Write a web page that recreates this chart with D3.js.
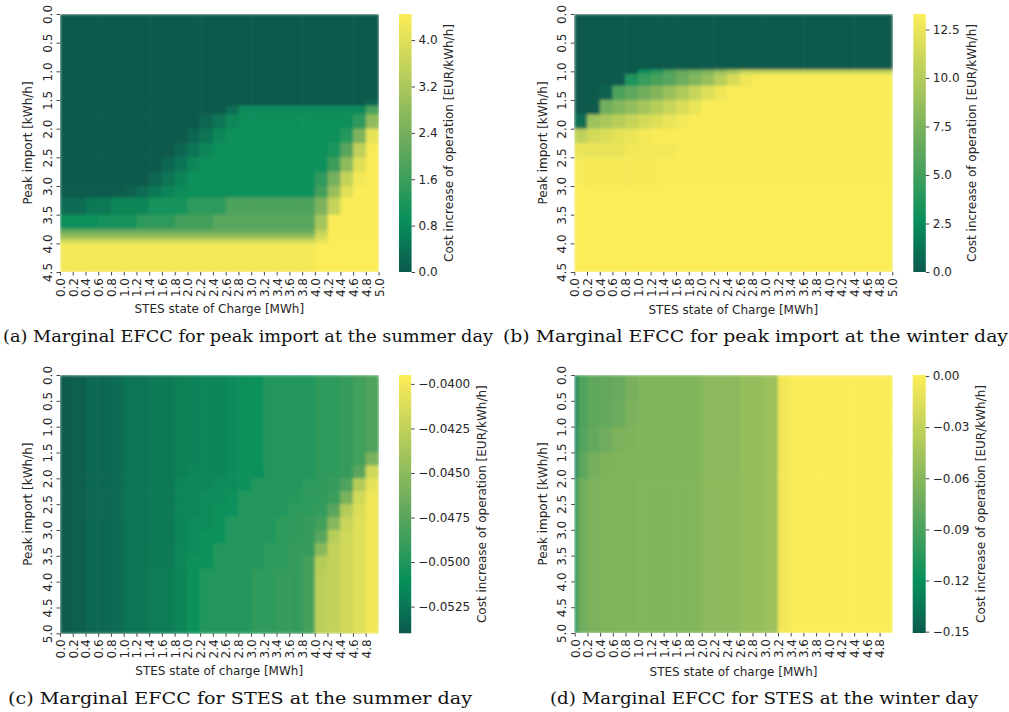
<!DOCTYPE html>
<html><head><meta charset="utf-8">
<script src="https://cdn.jsdelivr.net/npm/d3@7"></script>
<style>body{margin:0;background:#fff}svg{display:block}</style>
</head><body>
<script>
// ---------------- data ----------------
const xEdgesABC = [0,0.2,0.4,0.6,0.8,1.0,1.2,1.4,1.6,1.8,2.0,2.2,2.4,2.6,2.8,3.0,3.2,3.4,3.6,3.8,4.0,4.2,4.4,4.6,4.8,5.0];
const xEdgesD = [0,0.05,0.2,0.4,0.6,0.8,1.0,1.2,1.4,1.6,1.8,2.0,2.2,2.4,2.6,2.8,3.0,3.2,3.4,3.6,3.8,4.0,4.2,4.4,4.6,4.8,5.0];
const xTicksAB = [0,0.2,0.4,0.6,0.8,1.0,1.2,1.4,1.6,1.8,2.0,2.2,2.4,2.6,2.8,3.0,3.2,3.4,3.6,3.8,4.0,4.2,4.4,4.6,4.8,5.0];
const xTicksCD = [0,0.2,0.4,0.6,0.8,1.0,1.2,1.4,1.6,1.8,2.0,2.2,2.4,2.6,2.8,3.0,3.2,3.4,3.6,3.8,4.0,4.2,4.4,4.6,4.8];
const yTicksAB = [0,0.5,1.0,1.5,2.0,2.5,3.0,3.5,4.0,4.5];
const yTicksCD = [0,0.5,1.0,1.5,2.0,2.5,3.0,3.5,4.0,4.5,5.0];

// (a) peak import, summer
const aYEdges = [0,1.5,1.6,1.75,2.0,2.25,2.5,2.75,3.0,3.2,3.5,3.75,3.83,3.92,4.0,4.5];
const aValues = [
 [0,0,0,0,0,0,0,0,0,0,0,0,0,0,0,0,0,0,0,0,0,0,0,0,0],
 [0,0,0,0,0,0,0,0,0,0,0,0,0,0,0,0,0,0,0,0,0,0,0,0,0.2],
 [0,0,0,0,0,0,0,0,0,0,0,0,0,0.3,0.8,0.8,0.8,0.8,0.8,0.8,0.8,0.8,0.8,0.8,1.8],
 [0,0,0,0,0,0,0,0,0,0,0,0.2,0.45,0.75,0.9,0.9,0.9,0.9,0.9,0.9,0.9,0.9,0.9,1.4,2.8],
 [0,0,0,0,0,0,0,0,0,0,0.2,0.45,0.75,0.92,0.92,0.92,0.92,0.92,0.92,0.92,0.92,0.92,1.3,2.5,4.1],
 [0,0,0,0,0,0,0,0,0,0.2,0.45,0.75,0.95,0.95,0.95,0.95,0.95,0.95,0.95,0.95,0.95,1.2,2.0,3.5,4.35],
 [0,0,0,0,0,0,0,0,0.2,0.45,0.75,0.95,0.95,0.95,0.95,0.95,0.95,0.95,0.95,0.95,0.95,1.6,2.8,4.0,4.4],
 [0,0,0,0,0,0,0,0.2,0.45,0.7,0.95,0.95,0.95,0.95,0.95,0.95,0.95,0.95,0.95,0.95,1.4,2.4,3.6,4.3,4.4],
 [0.03,0.03,0.03,0.03,0.03,0.1,0.3,0.5,0.7,0.85,1.0,1.0,1.0,1.0,1.0,1.0,1.0,1.0,1.0,1.0,1.7,2.9,4.0,4.4,4.4],
 [0.3,0.3,0.5,0.5,0.75,0.75,0.75,1.1,1.1,1.1,1.4,1.4,1.4,1.85,1.85,1.85,1.85,1.85,1.85,1.85,2.5,3.6,4.4,4.4,4.4],
 [0.9,0.9,0.9,1.1,1.1,1.1,1.4,1.4,1.4,1.7,1.7,1.7,2.0,2.0,2.0,2.0,2.0,2.0,2.0,2.0,3.1,4.4,4.4,4.4,4.4],
 [2.2,2.2,2.2,2.2,2.2,2.2,2.2,2.2,2.2,2.2,2.2,2.2,2.2,2.2,2.2,2.2,2.2,2.2,2.2,2.2,3.5,4.4,4.4,4.4,4.4],
 [2.8,2.8,2.8,2.8,2.8,2.8,2.8,2.8,2.8,2.8,2.8,2.8,2.8,2.8,2.8,2.8,2.8,2.8,2.8,2.8,3.8,4.4,4.4,4.4,4.4],
 [3.8,3.8,3.8,3.8,3.8,3.8,3.8,3.8,3.8,3.8,3.8,3.8,3.8,3.8,3.8,3.8,3.8,3.8,3.8,3.8,4.1,4.4,4.4,4.4,4.4],
 [4.3,4.3,4.3,4.3,4.3,4.3,4.3,4.3,4.3,4.3,4.3,4.3,4.3,4.3,4.3,4.3,4.3,4.3,4.3,4.3,4.42,4.42,4.42,4.42,4.42]
];
const aRange = [0, 4.45];
const aCbTicks = [0.0,0.8,1.6,2.4,3.2,4.0];

// (b) peak import, winter
const bYEdges = [0,0.97,1.05,1.25,1.5,1.75,2.0,2.25,2.5,3.0,4.5];
const bValues = [
 [0,0,0,0,0,0,0,0,0,0,0,0,0,0,0,0,0,0,0,0,0,0,0,0,0],
 [0,0,0,0,0,3.0,4.0,5.5,6.5,7.0,7.5,8.5,9.5,10.8,10.8,10.8,10.8,10.8,10.8,10.8,10.8,10.8,10.8,10.8,10.8],
 [0,0,0,0,3.5,4.6,5.2,5.9,6.8,7.8,8.7,10.2,11.6,12.6,13.1,13.1,13.1,13.1,13.1,13.1,13.1,13.1,13.1,13.1,13.1],
 [0,0,0.5,5.5,6.2,7.0,7.8,8.8,9.8,10.9,11.9,12.6,13.1,13.1,13.1,13.1,13.1,13.1,13.1,13.1,13.1,13.1,13.1,13.1,13.1],
 [0,0,7.0,7.8,8.5,9.3,10.1,10.9,11.7,12.4,13.1,13.1,13.1,13.1,13.1,13.1,13.1,13.1,13.1,13.1,13.1,13.1,13.1,13.1,13.1],
 [1.0,9.0,9.6,10.2,10.8,11.4,11.9,12.4,12.8,13.1,13.1,13.1,13.1,13.1,13.1,13.1,13.1,13.1,13.1,13.1,13.1,13.1,13.1,13.1,13.1],
 [10.5,11.4,11.8,12.2,12.5,12.8,13.1,13.1,13.1,13.1,13.1,13.1,13.1,13.1,13.1,13.1,13.1,13.1,13.1,13.1,13.1,13.1,13.1,13.1,13.1],
 [12.4,12.4,12.4,12.4,12.8,12.8,12.8,12.8,13.1,13.1,13.1,13.1,13.1,13.1,13.1,13.1,13.1,13.1,13.1,13.1,13.1,13.1,13.1,13.1,13.1],
 [13.0,13.0,13.0,13.0,13.0,13.0,13.0,13.15,13.15,13.15,13.15,13.15,13.15,13.15,13.15,13.15,13.15,13.15,13.15,13.15,13.15,13.15,13.15,13.15,13.15],
 [13.2,13.2,13.2,13.2,13.2,13.2,13.2,13.2,13.2,13.2,13.2,13.2,13.2,13.2,13.2,13.2,13.2,13.2,13.2,13.2,13.2,13.2,13.2,13.2,13.2]
];
const bRange = [0, 13.3];
const bCbTicks = [0.0,2.5,5.0,7.5,10.0,12.5];

// (c) STES, summer
const cYEdges = [0,1.5,1.75,2.0,2.25,2.5,2.75,3.0,3.25,3.5,3.75,5.0];
const cValues = [
 [-0.0539,-0.0536,-0.0533,-0.0533,-0.0530,-0.0526,-0.0526,-0.0523,-0.0523,-0.0519,-0.0518,-0.0516,-0.0516,-0.0513,-0.0511,-0.0507,-0.0499,-0.0499,-0.0499,-0.0499,-0.0494,-0.0494,-0.0491,-0.0485,-0.0479],
 [-0.0539,-0.0536,-0.0533,-0.0533,-0.0530,-0.0526,-0.0526,-0.0523,-0.0523,-0.0519,-0.0518,-0.0516,-0.0516,-0.0513,-0.0511,-0.0507,-0.0499,-0.0499,-0.0499,-0.0499,-0.0494,-0.0494,-0.0491,-0.0485,-0.0460],
 [-0.0539,-0.0536,-0.0533,-0.0533,-0.0530,-0.0526,-0.0526,-0.0523,-0.0523,-0.0519,-0.0516,-0.0516,-0.0516,-0.0513,-0.0508,-0.0508,-0.0499,-0.0499,-0.0499,-0.0499,-0.0494,-0.0494,-0.0491,-0.0475,-0.0417],
 [-0.0539,-0.0536,-0.0533,-0.0533,-0.0530,-0.0526,-0.0526,-0.0523,-0.0523,-0.0516,-0.0516,-0.0516,-0.0513,-0.0513,-0.0508,-0.0499,-0.0499,-0.0499,-0.0499,-0.0494,-0.0494,-0.0491,-0.0479,-0.0431,-0.0407],
 [-0.0539,-0.0536,-0.0533,-0.0533,-0.0530,-0.0526,-0.0526,-0.0523,-0.0523,-0.0516,-0.0516,-0.0513,-0.0513,-0.0508,-0.0499,-0.0499,-0.0499,-0.0499,-0.0497,-0.0494,-0.0494,-0.0488,-0.0460,-0.0417,-0.0402],
 [-0.0539,-0.0536,-0.0533,-0.0533,-0.0530,-0.0526,-0.0526,-0.0523,-0.0523,-0.0516,-0.0516,-0.0513,-0.0508,-0.0508,-0.0499,-0.0499,-0.0499,-0.0499,-0.0494,-0.0494,-0.0491,-0.0475,-0.0431,-0.0412,-0.0401],
 [-0.0539,-0.0536,-0.0533,-0.0533,-0.0530,-0.0526,-0.0526,-0.0523,-0.0523,-0.0516,-0.0513,-0.0513,-0.0508,-0.0499,-0.0499,-0.0499,-0.0499,-0.0494,-0.0494,-0.0491,-0.0485,-0.0453,-0.0421,-0.0410,-0.0401],
 [-0.0539,-0.0536,-0.0533,-0.0533,-0.0530,-0.0526,-0.0526,-0.0523,-0.0523,-0.0516,-0.0513,-0.0508,-0.0508,-0.0499,-0.0499,-0.0499,-0.0499,-0.0494,-0.0494,-0.0491,-0.0475,-0.0430,-0.0418,-0.0410,-0.0401],
 [-0.0539,-0.0536,-0.0533,-0.0533,-0.0530,-0.0526,-0.0526,-0.0522,-0.0522,-0.0515,-0.0513,-0.0508,-0.0499,-0.0499,-0.0499,-0.0499,-0.0494,-0.0494,-0.0491,-0.0491,-0.0453,-0.0424,-0.0417,-0.0410,-0.0401],
 [-0.0539,-0.0536,-0.0533,-0.0533,-0.0530,-0.0526,-0.0526,-0.0522,-0.0522,-0.0515,-0.0508,-0.0508,-0.0499,-0.0499,-0.0499,-0.0499,-0.0494,-0.0494,-0.0491,-0.0485,-0.0431,-0.0424,-0.0417,-0.0410,-0.0401],
 [-0.0539,-0.0536,-0.0533,-0.0533,-0.0530,-0.0526,-0.0526,-0.0521,-0.0521,-0.0516,-0.0508,-0.0499,-0.0499,-0.0499,-0.0499,-0.0494,-0.0494,-0.0491,-0.0491,-0.0485,-0.0428,-0.0424,-0.0417,-0.0410,-0.0401]
];
const cRange = [-0.0540, -0.0395];
const cCbTicks = [-0.0525,-0.0500,-0.0475,-0.0450,-0.0425,-0.0400];

// (d) STES, winter
const dYEdges = [0,0.5,1.0,1.5,2.0,5.0];
const dValues = [
 [-0.130,-0.088,-0.080,-0.078,-0.076,-0.068,-0.063,-0.063,-0.063,-0.063,-0.063,-0.058,-0.058,-0.058,-0.053,-0.052,-0.049,-0.005,-0.001,-0.001,-0.001,-0.001,-0.001,-0.001,-0.001,-0.001],
 [-0.130,-0.088,-0.080,-0.078,-0.074,-0.066,-0.063,-0.063,-0.063,-0.063,-0.063,-0.058,-0.058,-0.058,-0.053,-0.052,-0.049,-0.005,-0.001,-0.001,-0.001,-0.001,-0.001,-0.001,-0.001,-0.001],
 [-0.130,-0.086,-0.078,-0.072,-0.066,-0.064,-0.063,-0.063,-0.063,-0.063,-0.063,-0.058,-0.058,-0.058,-0.053,-0.052,-0.049,-0.005,-0.001,-0.001,-0.001,-0.001,-0.001,-0.001,-0.001,-0.001],
 [-0.128,-0.082,-0.070,-0.065,-0.064,-0.063,-0.063,-0.063,-0.063,-0.063,-0.063,-0.058,-0.058,-0.058,-0.053,-0.052,-0.049,-0.005,-0.001,-0.001,-0.001,-0.001,-0.001,-0.001,-0.001,-0.001],
 [-0.115,-0.072,-0.066,-0.064,-0.063,-0.063,-0.062,-0.062,-0.062,-0.062,-0.062,-0.057,-0.057,-0.057,-0.053,-0.052,-0.049,-0.005,-0.001,-0.001,-0.001,-0.001,-0.001,-0.001,-0.001,-0.001]
];
const dRange = [-0.1508, 0.0006];
const dCbTicks = [-0.15,-0.12,-0.09,-0.06,-0.03,0];

// ---------------- drawing ----------------
const cmapStops = [[0,'#0b5a4e'],[0.2,'#078f5b'],[0.5,'#6aaa5d'],[1,'#fded58']];
function cmap(t){
  t = Math.max(0, Math.min(1, t));
  for (let k = 1; k < cmapStops.length; k++) {
    const [t1,c1] = cmapStops[k], [t0,c0] = cmapStops[k-1];
    if (t <= t1) return d3.interpolateRgb(c0,c1)((t-t0)/(t1-t0));
  }
  return cmapStops[cmapStops.length-1][1];
}

const W = 1009, H = 712;
const svg = d3.select('body').append('svg').attr('width',W).attr('height',H);
const defs = svg.append('defs');
const FONT = 'DejaVu Sans';
const FS = 12;
const TXT = '#262626';

const panels = [
 {key:'a', xEdges:xEdgesABC, yEdges:aYEdges, values:aValues, yMax:4.5, xTicks:xTicksAB, yTicks:yTicksAB,
  range:aRange, cbTicks:aCbTicks, cbFmt:d3.format('.1f'), xLabel:'STES state of Charge [MWh]',
  caption:'(a) Marginal EFCC for peak import at the summer day',
  x0:60, x1:378.6, y0:14, y1:272, cbX:399, cbW:12.6, ylabX:32, xlabY:312.5, cbLabX:452.5, capX:3, capW:490, capY:342},
 {key:'b', xEdges:xEdgesABC, yEdges:bYEdges, values:bValues, yMax:4.5, xTicks:xTicksAB, yTicks:yTicksAB,
  range:bRange, cbTicks:bCbTicks, cbFmt:d3.format('.1f'), xLabel:'STES state of Charge [MWh]',
  caption:'(b) Marginal EFCC for peak import at the winter day',
  x0:574.3, x1:892.3, y0:14, y1:272, cbX:913.3, cbW:12.5, ylabX:546.5, xlabY:313.5, cbLabX:975.5, capX:503, capW:505, capY:342},
 {key:'c', xEdges:xEdgesABC, yEdges:cYEdges, values:cValues, yMax:5.0, xTicks:xTicksCD, yTicks:yTicksCD,
  range:cRange, cbTicks:cCbTicks, cbFmt:d3.format('.4f'), xLabel:'STES state of charge [MWh]',
  caption:'(c) Marginal EFCC for STES at the summer day',
  x0:60, x1:378.4, y0:375, y1:633.3, cbX:399, cbW:12.2, ylabX:32, xlabY:675, cbLabX:486, capX:8, capW:464, capY:704},
 {key:'d', xEdges:xEdgesD, yEdges:dYEdges, values:dValues, yMax:5.0, xTicks:xTicksCD, yTicks:yTicksCD,
  range:dRange, cbTicks:dCbTicks, cbFmt:d3.format('.2f'), xLabel:'STES state of charge [MWh]',
  caption:'(d) Marginal EFCC for STES at the winter day',
  x0:574.7, x1:892.3, y0:375, y1:633, cbX:912.7, cbW:13, ylabX:546.5, xlabY:676, cbLabX:984.5, capX:550, capW:428, capY:704}
];

panels.forEach(p => {
  const g = svg.append('g');
  const x = d3.scaleLinear().domain([0,5]).range([p.x0,p.x1]);
  const y = d3.scaleLinear().domain([0,p.yMax]).range([p.y0,p.y1]);
  const c = d3.scaleLinear().domain(p.range).range([0,1]).clamp(true);

  const fid = 'soft-' + p.key;
  const f = defs.append('filter').attr('id',fid).attr('filterUnits','userSpaceOnUse')
    .attr('x',p.x0).attr('y',p.y0).attr('width',p.x1-p.x0).attr('height',p.y1-p.y0);
  f.append('feGaussianBlur').attr('stdDeviation',1.5).attr('edgeMode','duplicate');

  const cells = [];
  p.values.forEach((row,i) => row.forEach((v,j) => cells.push({i,j,v})));
  g.append('g').attr('filter',`url(#${fid})`)
    .selectAll('rect').data(cells).join('rect')
    .attr('x', d => x(p.xEdges[d.j]))
    .attr('y', d => y(p.yEdges[d.i]))
    .attr('width', d => x(p.xEdges[d.j+1]) - x(p.xEdges[d.j]) + 0.6)
    .attr('height', d => y(p.yEdges[d.i+1]) - y(p.yEdges[d.i]) + 0.6)
    .attr('fill', d => cmap(c(d.v)));

  // x axis
  const ax = g.append('g').attr('transform',`translate(0,${p.y1})`)
    .call(d3.axisBottom(x).tickValues(p.xTicks).tickFormat(d3.format('.1f')).tickSize(3.5));
  ax.select('.domain').remove();
  ax.selectAll('.tick line').attr('stroke','#333').attr('stroke-width',0.9);
  ax.selectAll('.tick text').attr('y',null).attr('dy',null)
    .attr('text-anchor','end').attr('transform','translate(4.4,6) rotate(-90)')
    .attr('font-family',FONT).attr('font-size',FS).attr('fill',TXT);

  // y axis
  const ay = g.append('g').attr('transform',`translate(${p.x0},0)`)
    .call(d3.axisLeft(y).tickValues(p.yTicks).tickFormat(d3.format('.1f')).tickSize(3.5));
  ay.select('.domain').remove();
  ay.selectAll('.tick line').attr('stroke','#333').attr('stroke-width',0.9);
  ay.selectAll('.tick text').attr('x',null).attr('dy',null)
    .attr('text-anchor','middle').attr('transform','translate(-8.5,0) rotate(-90)')
    .attr('font-family',FONT).attr('font-size',FS).attr('fill',TXT);

  // axis labels
  g.append('text').attr('x',(p.x0+p.x1)/2).attr('y',p.xlabY).attr('text-anchor','middle')
    .attr('font-family',FONT).attr('font-size',FS).attr('fill',TXT).text(p.xLabel);
  g.append('text').attr('transform',`translate(${p.ylabX},${(p.y0+p.y1)/2}) rotate(-90)`)
    .attr('text-anchor','middle').attr('font-family',FONT).attr('font-size',FS).attr('fill',TXT)
    .text('Peak import [kWh/h]');

  // colorbar
  const cb = d3.scaleLinear().domain(p.range).range([p.y1,p.y0]);
  const gid = 'grad-' + p.key;
  const grad = defs.append('linearGradient').attr('id',gid).attr('x1',0).attr('y1',1).attr('x2',0).attr('y2',0);
  d3.range(0,1.0001,0.05).forEach(t => grad.append('stop').attr('offset',t).attr('stop-color',cmap(t)));
  g.append('rect').attr('x',p.cbX).attr('y',p.y0).attr('width',p.cbW).attr('height',p.y1-p.y0)
    .attr('fill',`url(#${gid})`);
  const ac = g.append('g').attr('transform',`translate(${p.cbX+p.cbW},0)`)
    .call(d3.axisRight(cb).tickValues(p.cbTicks).tickFormat(p.cbFmt).tickSize(3.5).tickPadding(3.5));
  ac.select('.domain').remove();
  ac.selectAll('.tick line').attr('stroke','#333').attr('stroke-width',0.9);
  ac.selectAll('.tick text').attr('font-family',FONT).attr('font-size',FS).attr('fill',TXT);
  g.append('text').attr('transform',`translate(${p.cbLabX},${(p.y0+p.y1)/2}) rotate(-90)`)
    .attr('text-anchor','middle').attr('font-family',FONT).attr('font-size',FS).attr('fill',TXT)
    .text('Cost increase of operation [EUR/kWh/h]');

  // caption
  g.append('text').attr('x',p.capX).attr('y',p.capY)
    .attr('font-family','DejaVu Serif').attr('font-size',16.5).attr('fill','#111')
    .attr('textLength',p.capW).attr('lengthAdjust','spacingAndGlyphs')
    .text(p.caption);
});
</script>
</body></html>
